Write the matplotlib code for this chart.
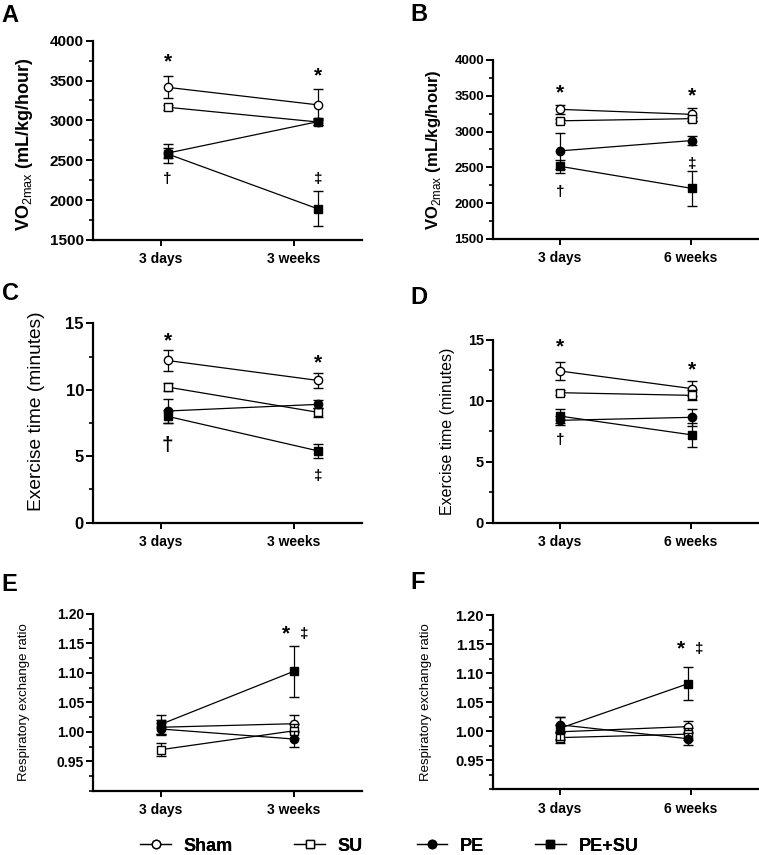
import numpy as np
import matplotlib
matplotlib.use("Agg")
import matplotlib.pyplot as plt
from matplotlib.lines import Line2D
from matplotlib.ticker import MultipleLocator, FixedLocator, FormatStrFormatter

plt.rcParams['font.family'] = ['Liberation Sans', 'DejaVu Sans']
plt.rcParams['mathtext.fontset'] = 'custom'
plt.rcParams['mathtext.rm'] = 'Liberation Sans'
plt.rcParams['mathtext.bf'] = 'Liberation Sans:bold'

groups = ['Sham', 'SU', 'PE', 'PE+SU']

# mean values (3 days, later time point) and SEM per group, per panel
A_mean = [[3415, 3195], [3165, 2980], [2590, 2985], [2580, 1890]]
A_err = [[140, 195], [30, 40], [60, 40], [120, 220]]
B_mean = [[3310, 3240], [3150, 3180], [2730, 2875], [2515, 2205]]
B_err = [[65, 90], [30, 30], [250, 60], [90, 250]]
C_mean = [[12.2, 10.7], [10.2, 8.3], [8.4, 8.9], [8.0, 5.4]]
C_err = [[0.8, 0.55], [0.3, 0.35], [0.9, 0.3], [0.5, 0.55]]
D_mean = [[12.45, 11.0], [10.67, 10.45], [8.4, 8.65], [8.75, 7.2]]
D_err = [[0.77, 0.6], [0.2, 0.4], [0.35, 0.7], [0.6, 1.0]]
E_mean = [[1.008, 1.014], [0.970, 1.002], [1.005, 0.988], [1.013, 1.103]]
E_err = [[0.012, 0.014], [0.011, 0.012], [0.01, 0.013], [0.016, 0.043]]
F_mean = [[0.999, 1.008], [0.989, 0.995], [1.011, 0.987], [1.005, 1.082]]
F_err = [[0.012, 0.01], [0.01, 0.01], [0.014, 0.01], [0.02, 0.029]]

labels_3w = ['3 days', '3 weeks']
labels_6w = ['3 days', '6 weeks']

# significance marks: (symbol, time index, y value)
A_sig = [('*', 0, 3737), ('*', 1, 3557), ('†', 0, 2265), ('‡', 1, 2265)]
B_sig = [('*', 0, 3544), ('*', 1, 3497), ('†', 0, 2152), ('‡', 1, 2548)]
C_sig = [('*', 0, 13.67), ('*', 1, 12.0), ('†', 0, 5.84), ('‡', 1, 3.5)]
D_sig = [('*', 0, 14.4), ('*', 1, 12.54), ('†', 0, 6.8)]
E_sig = [('*', 1, 1.166), ('‡', 1, 1.166)]
F_sig = [('*', 1, 1.141), ('‡', 1, 1.141)]

markers = ['o', 's', 'o', 's']
faces = ['white', 'white', 'black', 'black']

vo2_label = r'VO$_\mathrm{2max}$ (mL/kg/hour)'

panels = [
    # letter, rect, mean, err, xlabels, ylim, major, minor, ylabel, yl_size, yl_weight, yl_x, yl_y,
    # ytick size, point x, sig, letter pos
    ('A', [0.1225, 0.7193, 0.3544, 0.2331], A_mean, A_err, labels_3w, (1500, 4000), 500, 250,
     vo2_label, 13, 'bold', -0.216, 0.48, 11, [0.05, 1.18], A_sig, (0.002, 0.9953)),
    ('B', [0.6495, 0.7205, 0.3491, 0.2094], B_mean, B_err, labels_6w, (1500, 4000), 500, 250,
     vo2_label, 12, 'bold', -0.189, 0.5, 9.5, [0.0, 1.01], B_sig, (0.541, 0.9965)),
    ('C', [0.1225, 0.3887, 0.3544, 0.2332], C_mean, C_err, labels_3w, (0, 15), 5, 2.5,
     'Exercise time (minutes)', 13.75, 'normal', -0.178, 0.56, 12, [0.05, 1.18], C_sig, (0.002, 0.6702)),
    ('D', [0.6495, 0.3887, 0.3491, 0.2137], D_mean, D_err, labels_6w, (0, 15), 5, 2.5,
     'Exercise time (minutes)', 11.5, 'normal', -0.143, 0.5, 10.5, [0.0, 1.01], D_sig, (0.541, 0.6655)),
    ('E', [0.1225, 0.0749, 0.3544, 0.2070], E_mean, E_err, labels_3w, (0.90, 1.20), 0.05, 0.025,
     'Respiratory exchange ratio', 9.5, 'normal', -0.234, 0.5, 10, [0.0, 1.0], E_sig, (0.002, 0.3298)),
    ('F', [0.6495, 0.0768, 0.3491, 0.2039], F_mean, F_err, labels_6w, (0.90, 1.20), 0.05, 0.025,
     'Respiratory exchange ratio', 9.5, 'normal', -0.23, 0.5, 10.5, [0.0, 0.98], F_sig, (0.541, 0.3322)),
]

fig = plt.figure(figsize=(7.59, 8.55), dpi=100)

for (letter, rect, mean, err, xlabels, ylim, major, minor, ylabel, yl_size,
     yl_weight, yl_x, yl_y, tsize, xpos, sig, lpos) in panels:
    ax = fig.add_axes(rect)
    for g in range(len(groups)):
        ax.errorbar(xpos, mean[g], yerr=err[g], color='black', lw=0.9,
                    marker=markers[g], mfc=faces[g], mec='black', ms=6, mew=1.0,
                    capsize=3.5, capthick=0.9, elinewidth=0.9, zorder=3 + g)
    for sym, ti, yv in sig:
        dx = 0
        if letter in 'EF':
            dx = -0.06 if sym == '*' else 0.08
        size = 15 if sym == '*' else 11
        if letter == 'C' and sym == '†':
            size = 15
        ax.text(xpos[ti] + dx, yv, sym, ha='center', va='center', fontsize=size,
                fontweight='bold', family=['Liberation Sans', 'DejaVu Sans'])
    ax.set_xlim(-0.51, 1.51)
    ax.set_ylim(*ylim)
    if letter in 'EF':
        ax.yaxis.set_major_locator(FixedLocator(np.arange(0.95, 1.2001, 0.05)))
        ax.yaxis.set_major_formatter(FormatStrFormatter('%.2f'))
    else:
        ax.yaxis.set_major_locator(MultipleLocator(major))
    ax.yaxis.set_minor_locator(MultipleLocator(minor))
    ax.set_xticks([0, 1])
    ax.set_xticklabels(xlabels, fontsize=10, fontweight='bold')
    for t in ax.get_yticklabels():
        t.set_fontsize(tsize)
        t.set_fontweight('bold')
    ax.spines['top'].set_visible(False)
    ax.spines['right'].set_visible(False)
    ax.spines['left'].set_linewidth(1.6)
    ax.spines['bottom'].set_linewidth(1.6)
    ax.tick_params(axis='y', which='major', length=5, width=1.4, pad=1.5)
    ax.tick_params(axis='y', which='minor', length=3, width=1.2)
    ax.tick_params(axis='x', length=4, width=1.4, pad=5)
    ax.set_ylabel(ylabel, fontsize=yl_size, fontweight=yl_weight)
    ax.yaxis.set_label_coords(yl_x, yl_y)
    fig.text(lpos[0], lpos[1], letter, fontsize=17, fontweight='bold', va='top', ha='left')

# legend, one entry at a time to keep the uneven spacing
legend_x = [0.185, 0.388, 0.549, 0.705]
for g in range(len(groups)):
    h = Line2D([], [], color='black', lw=0.9, marker=markers[g], mfc=faces[g],
               mec='black', ms=6, mew=1.0)
    leg = fig.legend(handles=[h], labels=[groups[g]], loc='center left',
                     bbox_to_anchor=(legend_x[g], 0.0105), frameon=False,
                     prop={'size': 13, 'weight': 'bold'}, handlelength=1.7,
                     handletextpad=0.7, borderaxespad=0, borderpad=0)
    fig.add_artist(leg)

fig.savefig('out.png', dpi=100)
